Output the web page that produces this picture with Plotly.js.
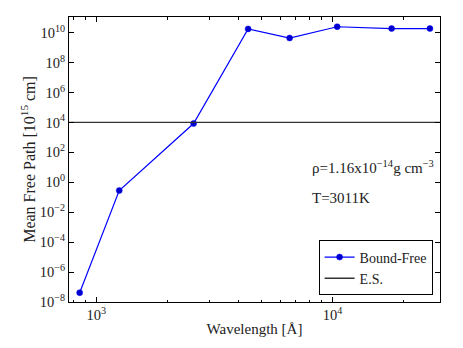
<!DOCTYPE html>
<html>
<head>
<meta charset="utf-8">
<script src="https://cdn.plot.ly/plotly-3.0.1.min.js"></script>
<style>html,body{margin:0;padding:0;background:#fff;}#chart{width:463px;height:348px;}</style>
</head>
<body>
<div id="chart"></div>
<script>
// Data
const wavelength = [850, 1250, 2580, 4390, 6580, 10460, 17780, 25830];
const boundFree = [4.2e-8, 0.28, 8.5e3, 1.8e10, 4.4e9, 2.5e10, 1.9e10, 1.9e10];
const esValue = 1e4;
const xLimits = [766, 28500];
const yLimits = [1e-8, 1.12e11];
const xTickExps = [3, 4];
const yTickExps = [-8, -6, -4, -2, 0, 2, 4, 6, 8, 10];
const annRho = "ρ=1.16x10<sup>−14</sup>g cm<sup>−3</sup>";
const annT = "T=3011K";

const FONT = "Liberation Serif, DejaVu Serif, serif";
const pow10Label = e => '10<sup>' + String(e).replace('-', '−') + '</sup>';

const traces = [
  {
    x: wavelength, y: boundFree, mode: 'lines+markers', name: 'Bound-Free',
    line: {color: '#0000ff', width: 1.2},
    marker: {color: '#0000cc', size: 6, line: {color: '#0000ff', width: 0.5}}
  },
  {
    x: xLimits, y: [esValue, esValue], mode: 'lines', name: 'E.S.',
    line: {color: '#333', width: 1.3}
  }
];

const axisCommon = {
  type: 'log', showgrid: false, zeroline: false,
  showline: true, linecolor: '#000', linewidth: 1, mirror: 'allticks',
  ticks: 'inside', ticklen: 5, tickcolor: '#000',
  tickfont: {family: FONT, size: 14.5, color: '#222'}
};

const layout = {
  width: 463, height: 348,
  margin: {l: 69, r: 23, t: 17, b: 46},
  paper_bgcolor: '#fff', plot_bgcolor: '#fff',
  font: {family: FONT, size: 14, color: '#222'},
  xaxis: Object.assign({}, axisCommon, {
    range: xLimits.map(Math.log10),
    tickmode: 'array',
    tickvals: xTickExps.map(e => Math.pow(10, e)),
    ticktext: xTickExps.map(pow10Label),
    minor: {ticks: 'inside', ticklen: 2.5, tickcolor: '#000', dtick: 'D1', showgrid: false},
    title: {text: 'Wavelength [Å]', font: {family: FONT, size: 15, color: '#222'}, standoff: 1}
  }),
  yaxis: Object.assign({}, axisCommon, {
    range: yLimits.map(Math.log10),
    tickmode: 'array',
    tickvals: yTickExps.map(e => Math.pow(10, e)),
    ticktext: yTickExps.map(pow10Label),
    title: {text: 'Mean Free Path [10<sup>15</sup> cm]', font: {family: FONT, size: 16, color: '#222'}, standoff: 0}
  }),
  showlegend: true,
  legend: {
    x: 0.98, y: 0.023, xanchor: 'right', yanchor: 'bottom',
    bgcolor: '#fff', bordercolor: '#000', borderwidth: 1,
    font: {family: FONT, size: 14, color: '#222'},
    itemwidth: 30
  },
  annotations: [
    {xref: 'paper', yref: 'paper', x: 0.65, y: 0.475, xanchor: 'left', yanchor: 'middle',
     text: annRho, showarrow: false, font: {family: FONT, size: 15, color: '#222'}},
    {xref: 'paper', yref: 'paper', x: 0.65, y: 0.366, xanchor: 'left', yanchor: 'middle',
     text: annT, showarrow: false, font: {family: FONT, size: 15, color: '#222'}}
  ]
};

Plotly.newPlot('chart', traces, layout, {displayModeBar: false, staticPlot: true});
</script>
</body>
</html>
